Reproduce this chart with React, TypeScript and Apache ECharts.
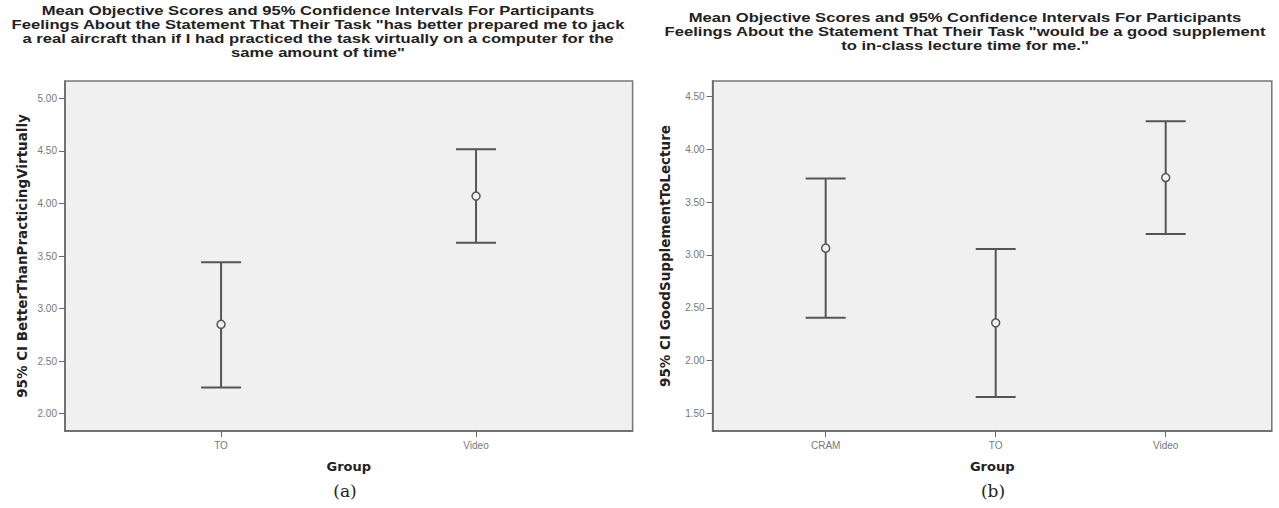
import React, { useEffect, useRef } from "react";
import * as echarts from "echarts";

const groupsA = ["TO", "Video"];
const meanA = [2.85, 4.07];
const lowA = [2.25, 3.625];
const highA = [3.44, 4.515];
const yTicksA = [2.0, 2.5, 3.0, 3.5, 4.0, 4.5, 5.0];

const groupsB = ["CRAM", "TO", "Video"];
const meanB = [3.065, 2.357, 3.734];
const lowB = [2.405, 1.655, 3.2];
const highB = [3.725, 3.058, 4.268];
const yTicksB = [1.5, 2.0, 2.5, 3.0, 3.5, 4.0, 4.5];

const titleA =
  "Mean Objective Scores and 95% Confidence Intervals For Participants\nFeelings About the Statement That Their Task \"has better prepared me to jack\na real aircraft than if I had practiced the task virtually on a computer for the\nsame amount of time\"";
const titleB =
  "Mean Objective Scores and 95% Confidence Intervals For Participants\nFeelings About the Statement That Their Task \"would be a good supplement\nto in-class lecture time for me.\"";

const W = 1279;
const H = 508;

export default function App() {
  const ref = useRef<HTMLDivElement>(null);
  useEffect(() => {
    if (!ref.current) return;
    const chart = echarts.init(ref.current, undefined, { renderer: "svg" });

    const ff = "Liberation Sans, Arial, sans-serif";
    const fw = "DejaVu Sans, Liberation Sans, sans-serif";
    const gridA = { left: 65, right: W - 632.6, top: 81, bottom: H - 431 };
    const gridB = { left: 712.6, right: W - 1271.8, top: 81, bottom: H - 431 };

    const errItem = () =>
      function (params: any, api: any) {
        const x = api.value(0);
        const lo = api.coord([x, api.value(1)]);
        const hi = api.coord([x, api.value(2)]);
        const hw = 20;
        const style = { stroke: "#555555", lineWidth: 2, fill: "none" };
        return {
          type: "group",
          children: [
            { type: "line", shape: { x1: lo[0], y1: lo[1], x2: hi[0], y2: hi[1] }, style },
            { type: "line", shape: { x1: hi[0] - hw, y1: hi[1], x2: hi[0] + hw, y2: hi[1] }, style },
            { type: "line", shape: { x1: lo[0] - hw, y1: lo[1], x2: lo[0] + hw, y2: lo[1] }, style },
          ],
        };
      };

    const yAxisCommon = (ticks: number[], name: string, min: number, max: number, gap: number) => ({
      type: "value",
      min,
      max,
      name,
      nameLocation: "middle",
      nameGap: gap,
      nameTextStyle: { fontFamily: fw, fontWeight: "bold", fontSize: 13.5, color: "#222" },
      axisLine: { show: true, lineStyle: { color: "#666", width: 1.5 } },
      axisTick: { show: true, customValues: ticks, length: 6, lineStyle: { color: "#666" } },
      axisLabel: {
        customValues: ticks,
        formatter: (v: number) => v.toFixed(2),
        fontFamily: ff,
        fontSize: 10,
        color: "#777",
        margin: 8,
      },
      splitLine: { show: false },
    });

    const xAxisCommon = (cats: string[], min: number, max: number) => {
      const vals = cats.map((_, i) => i + 1);
      return {
        type: "value",
        min,
        max,
        name: "Group",
        nameLocation: "middle",
        nameGap: 29,
        nameTextStyle: { fontFamily: fw, fontWeight: "bold", fontSize: 13, color: "#222" },
        axisLine: { show: true, lineStyle: { color: "#666", width: 1.5 } },
        axisTick: { show: true, customValues: vals, length: 6, lineStyle: { color: "#666" } },
        axisLabel: {
          customValues: vals,
          formatter: (v: number) => cats[Math.round(v) - 1] ?? "",
          fontFamily: ff,
          fontSize: 10,
          color: "#777",
          margin: 9,
        },
        splitLine: { show: false },
      };
    };

    const titleText = (text: string, x: number, y: number) => ({
      type: "text",
      x,
      y,
      scaleX: 1.23,
      scaleY: 1,
      style: {
        text,
        fill: "#222",
        fontFamily: ff,
        fontWeight: "bold",
        fontSize: 13.5,
        lineHeight: 14,
        align: "center",
        verticalAlign: "middle",
      },
    });

    const option: any = {
      animation: false,
      backgroundColor: "#ffffff",
      graphic: [
        titleText(titleA, 318, 31),
        titleText(titleB, 965, 31),
        {
          type: "text",
          x: 345,
          y: 491,
          style: {
            text: "(a)",
            fill: "#222",
            fontFamily: "DejaVu Serif, Liberation Serif, serif",
            fontSize: 17,
            align: "center",
            verticalAlign: "middle",
          },
        },
        {
          type: "text",
          x: 993,
          y: 491,
          style: {
            text: "(b)",
            fill: "#222",
            fontFamily: "DejaVu Serif, Liberation Serif, serif",
            fontSize: 17,
            align: "center",
            verticalAlign: "middle",
          },
        },
      ],
      grid: [
        { ...gridA, show: true, backgroundColor: "#f0f0f0", borderColor: "#777", borderWidth: 1.5 },
        { ...gridB, show: true, backgroundColor: "#f0f0f0", borderColor: "#777", borderWidth: 1.5 },
      ],
      xAxis: [
        { ...xAxisCommon(groupsA, 0.388, 2.614), gridIndex: 0 },
        { ...xAxisCommon(groupsB, 0.335, 3.624), gridIndex: 1 },
      ],
      yAxis: [
        { ...yAxisCommon(yTicksA, "95% CI BetterThanPracticingVirtually", 1.835, 5.165, 36), gridIndex: 0 },
        { ...yAxisCommon(yTicksB, "95% CI GoodSupplementToLecture", 1.332, 4.649, 41), gridIndex: 1 },
      ],
      series: [
        {
          type: "custom",
          xAxisIndex: 0,
          yAxisIndex: 0,
          data: groupsA.map((_, i) => [i + 1, lowA[i], highA[i]]),
          renderItem: errItem(),
          z: 2,
        },
        {
          type: "scatter",
          xAxisIndex: 0,
          yAxisIndex: 0,
          data: groupsA.map((_, i) => [i + 1, meanA[i]]),
          symbol: "circle",
          symbolSize: 8,
          itemStyle: { color: "#f0f0f0", borderColor: "#555", borderWidth: 1.5, opacity: 1 },
          z: 3,
        },
        {
          type: "custom",
          xAxisIndex: 1,
          yAxisIndex: 1,
          data: groupsB.map((_, i) => [i + 1, lowB[i], highB[i]]),
          renderItem: errItem(),
          z: 2,
        },
        {
          type: "scatter",
          xAxisIndex: 1,
          yAxisIndex: 1,
          data: groupsB.map((_, i) => [i + 1, meanB[i]]),
          symbol: "circle",
          symbolSize: 8,
          itemStyle: { color: "#f0f0f0", borderColor: "#555", borderWidth: 1.5, opacity: 1 },
          z: 3,
        },
      ],
    };
    chart.setOption(option);
    return () => chart.dispose();
  }, []);

  return (
    <div
      ref={ref}
      style={{ position: "fixed", left: 0, top: 0, width: W, height: H, background: "#fff" }}
    />
  );
}
